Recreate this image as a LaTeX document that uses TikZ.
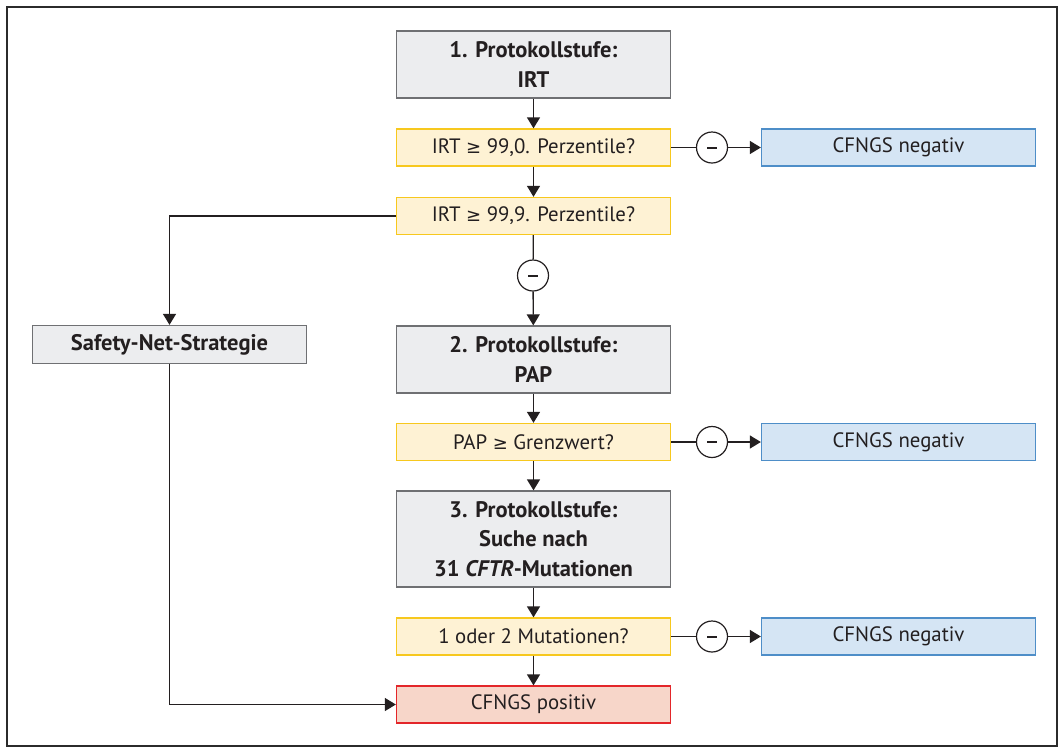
\documentclass[tikz,border=0pt]{standalone}
\usepackage{fontspec}
\setmainfont{PT Sans}
\newfontfamily\symf{DejaVu Sans}
\newcommand{\gq}{{\symf\fontsize{18}{20}\selectfont ≥}}
\usetikzlibrary{arrows.meta}
\definecolor{txt}{HTML}{231F20}
\definecolor{framec}{HTML}{2B2B2B}
\definecolor{gfill}{HTML}{ECEDEF}
\definecolor{gdraw}{HTML}{6F7073}
\definecolor{yfill}{HTML}{FEF2D4}
\definecolor{ydraw}{HTML}{F7C81E}
\definecolor{bfill}{HTML}{D5E5F4}
\definecolor{bdraw}{HTML}{4E8EC8}
\definecolor{rfill}{HTML}{F7D6C9}
\definecolor{rdraw}{HTML}{E3262A}
\begin{document}
\begin{tikzpicture}[x=1pt,y=-1pt,
  base/.style={rectangle, minimum width=274pt, inner sep=0pt, align=center, text=txt, line width=1.3pt},
  gbox/.style={base, fill=gfill, draw=gdraw, font={\fontsize{22.5}{29.5}\selectfont\bfseries}},
  ybox/.style={base, fill=yfill, draw=ydraw, minimum height=37pt, font={\fontsize{20.8}{24}\selectfont}},
  bbox/.style={base, fill=bfill, draw=bdraw, minimum height=37pt, font={\fontsize{20.8}{24}\selectfont}},
  rbox/.style={base, fill=rfill, draw=rdraw, minimum height=37pt, font={\fontsize{20.8}{24}\selectfont}},
  minus/.style={circle, draw=txt, line width=1.2pt, fill=white, minimum size=31pt, inner sep=0pt,
    path picture={\draw[line width=2pt, txt] ([xshift=-5pt]path picture bounding box.center) -- ([xshift=5pt]path picture bounding box.center);}},
  con/.style={draw=txt, line width=1.3pt},
  arr/.style={con, -{Triangle[length=11pt,width=13pt]}}
]
\useasboundingbox (0,0) rectangle (1059,748);
\draw[line width=2pt, framec] (7,7) rectangle (1057,746);

\node[gbox, minimum height=67pt] (s1) at (533.5,64.5) {1. Protokollstufe:\\IRT};
\node[ybox] (q1) at (533.5,147.5) {IRT \gq\ 99,0. Perzentile?};
\node[minus] (c1) at (712,147.5) {};
\node[bbox] (n1) at (898.5,147.5) {CFNGS negativ};
\node[ybox] (q2) at (533.5,216) {IRT \gq\ 99,9. Perzentile?};
\node[minus] (c2) at (533,275.5) {};
\node[gbox, minimum height=38pt] (sn) at (169.5,344.5) {Safety-Net-Strategie};
\node[gbox, minimum height=67pt] (s2) at (533.5,359.5) {2. Protokollstufe:\\PAP};
\node[ybox] (q3) at (533.5,442) {PAP \gq\ Grenzwert?};
\node[minus] (c3) at (712,442) {};
\node[bbox] (n2) at (898.5,442) {CFNGS negativ};
\node[gbox, minimum height=96pt] (s3) at (533.5,539) {3. Protokollstufe:\\Suche nach\\31 \textit{CFTR}-Mutationen};
\node[ybox] (q4) at (533.5,636.5) {1 oder 2 Mutationen?};
\node[minus] (c4) at (712,636.5) {};
\node[bbox] (n3) at (898.5,636.5) {CFNGS negativ};
\node[rbox] (pos) at (533.5,704.5) {CFNGS positiv};

\draw[arr] (s1) -- (q1);
\draw[con] (q1) -- (c1);
\draw[arr] (c1) -- (n1);
\draw[arr] (q1) -- (q2);
\draw[con] (q2) -- (c2);
\draw[arr] (c2) -- (s2);
\draw[arr] (q2.west) -| (sn.north);
\draw[arr] (sn.south) |- (pos.west);
\draw[arr] (s2) -- (q3);
\draw[con] (q3) -- (c3);
\draw[arr] (c3) -- (n2);
\draw[arr] (q3) -- (s3);
\draw[arr] (s3) -- (q4);
\draw[con] (q4) -- (c4);
\draw[arr] (c4) -- (n3);
\draw[arr] (q4) -- (pos);
\end{tikzpicture}
\end{document}
